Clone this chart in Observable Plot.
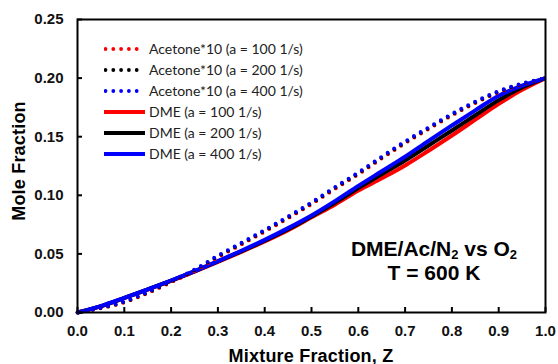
<!DOCTYPE html>
<html>
<head>
<meta charset="utf-8">
<script src="https://cdn.jsdelivr.net/npm/d3@7"></script>
<script src="https://cdn.jsdelivr.net/npm/@observablehq/plot@0.6"></script>
<style>
  html, body { margin: 0; padding: 0; background: #fff; }
  #wrap { position: relative; width: 558px; height: 364px; overflow: hidden; }
  .ov { position: absolute; font-family: "Liberation Sans", Arial, sans-serif; color: #000; white-space: nowrap; }
  .title { font-weight: bold; font-size: 18px; line-height: 18px; height: 18px; text-align: center; letter-spacing: 0.2px; }
  .ann { font-weight: bold; font-size: 21px; line-height: 21px; height: 21px; text-align: center; }
  .ann sub { font-size: 13px; vertical-align: -3px; line-height: 0; }
  .leg { position: absolute; left: 104px; height: 18px; display: flex; align-items: center;
         font-family: Lato, "Open Sans", sans-serif; font-size: 14px; color: #222; white-space: nowrap; }
  .leg svg { width: 41px; height: 18px; margin-right: 4px; flex: none; }
</style>
</head>
<body>
<div id="wrap"></div>
<script>
// ---- data ----
const Z = [0, 0.05, 0.1, 0.15, 0.2, 0.25, 0.3, 0.35, 0.4, 0.45, 0.5, 0.55, 0.6, 0.65, 0.7, 0.75, 0.8, 0.85, 0.9, 0.95, 1.0];

const dme100 = [0, 0.0053, 0.0123, 0.0196, 0.0270, 0.0348, 0.0431, 0.0517, 0.0606, 0.0702, 0.0812, 0.0920, 0.1040, 0.1145, 0.1255, 0.1380, 0.1510, 0.1645, 0.1780, 0.1900, 0.2000];
const dme200 = [0, 0.0054, 0.0124, 0.0197, 0.0272, 0.0351, 0.0435, 0.0522, 0.0612, 0.0710, 0.0820, 0.0937, 0.1062, 0.1180, 0.1297, 0.1425, 0.1553, 0.1683, 0.1812, 0.1920, 0.2000];
const dme400 = [0, 0.0055, 0.0125, 0.0198, 0.0273, 0.0353, 0.0438, 0.0527, 0.0620, 0.0720, 0.0828, 0.0950, 0.1080, 0.1205, 0.1330, 0.1465, 0.1596, 0.1725, 0.1850, 0.1935, 0.2000];

const ace100 = [0, 0.0036, 0.0086, 0.0165, 0.0258, 0.0353, 0.0471, 0.0580, 0.0690, 0.0804, 0.0924, 0.1054, 0.1179, 0.1314, 0.1444, 0.1565, 0.1681, 0.1787, 0.1879, 0.1948, 0.2000];
const ace200 = [0, 0.0038, 0.0090, 0.0170, 0.0264, 0.0360, 0.0479, 0.0588, 0.0698, 0.0812, 0.0932, 0.1062, 0.1187, 0.1322, 0.1452, 0.1572, 0.1688, 0.1793, 0.1884, 0.1951, 0.2000];
const ace400 = [0, 0.0040, 0.0094, 0.0175, 0.0270, 0.0367, 0.0486, 0.0595, 0.0705, 0.0820, 0.0940, 0.1070, 0.1195, 0.1330, 0.1460, 0.1580, 0.1695, 0.1800, 0.1890, 0.1955, 0.2000];

const xTicks = [0, 0.1, 0.2, 0.3, 0.4, 0.5, 0.6, 0.7, 0.8, 0.9, 1.0];
const yTicks = [0, 0.05, 0.10, 0.15, 0.20, 0.25];

const seriesNames = ["Acetone*10 (a = 100 1/s)", "Acetone*10 (a = 200 1/s)", "Acetone*10 (a = 400 1/s)",
                     "DME (a = 100 1/s)", "DME (a = 200 1/s)", "DME (a = 400 1/s)"];
const seriesColors = ["#ff0000", "#000000", "#0000ff", "#ff0000", "#000000", "#0000ff"];
const seriesDotted = [true, true, true, false, false, false];
const seriesValues = [ace100, ace200, ace400, dme100, dme200, dme400];

const annLines = ["DME/Ac/N<sub>2</sub> vs O<sub>2</sub>", "T = 600 K"];

const tables = seriesValues.map(vals => Z.map((z, i) => ({z, v: vals[i]})));

const W = 558, H = 364, ML = 77, MR = 13, MT = 19, MB = 52;
const TICK = 5;
const DOT = "0 7.8";
const marks = [];
// solid DME lines first, then dotted acetone on top
for (const idx of [3, 4, 5, 0, 1, 2]) {
  marks.push(Plot.line(tables[idx], {
    x: "z", y: "v", curve: "catmull-rom",
    stroke: seriesColors[idx],
    strokeWidth: seriesDotted[idx] ? 3.8 : 4,
    strokeDasharray: seriesDotted[idx] ? DOT : null,
    strokeLinecap: seriesDotted[idx] ? "round" : "butt"
  }));
}

const tickFont = {fontSize: 15, fontWeight: "bold", fontFamily: "Liberation Sans, Arial, sans-serif", fill: "#111"};

const chart = Plot.plot({
  width: W, height: H,
  marginLeft: ML, marginRight: MR, marginTop: MT, marginBottom: MB,
  style: {background: "white", overflow: "visible"},
  x: {domain: [0, 1], label: null},
  y: {domain: [0, 0.25], label: null},
  marks: [
    ...marks,
    // inward tick marks
    Plot.tickX(xTicks, {x: d => d, insetTop: (H - MT - MB) - TICK, stroke: "black", strokeWidth: 2}),
    Plot.tickY(yTicks, {y: d => d, insetRight: (W - ML - MR) - TICK, stroke: "black", strokeWidth: 2}),
    Plot.frame({stroke: "black", strokeWidth: 2}),
    // tick labels
    Plot.axisX({ticks: xTicks, tickFormat: d3.format(".1f"), tickSize: 0, tickPadding: 13, ...tickFont}),
    Plot.axisY({ticks: yTicks, tickFormat: d3.format(".2f"), tickSize: 0, tickPadding: 14, ...tickFont})
  ]
});

const wrap = document.getElementById("wrap");
wrap.appendChild(chart);

// axis titles
const xt = document.createElement("div");
xt.className = "ov title";
xt.style.left = "77px"; xt.style.width = "468px"; xt.style.top = "346.5px";
xt.textContent = "Mixture Fraction, Z";
wrap.appendChild(xt);

const yt = document.createElement("div");
yt.className = "ov title";
yt.style.left = "-81.2px"; yt.style.width = "200px"; yt.style.top = "151.8px";
yt.style.transform = "rotate(-90deg)";
yt.textContent = "Mole Fraction";
wrap.appendChild(yt);

// annotation (two lines, baselines ~255 and ~279)
const annTops = [237.5, 261.5];
annLines.forEach((html, i) => {
  const a = document.createElement("div");
  a.className = "ov ann";
  a.style.left = "334px"; a.style.width = "200px"; a.style.top = annTops[i] + "px";
  a.innerHTML = html;
  wrap.appendChild(a);
});

// legend
const rowY = [48.5, 69.5, 90.5, 111.5, 132.5, 153.5];
seriesNames.forEach((name, i) => {
  const row = document.createElement("div");
  row.className = "leg";
  row.style.top = (rowY[i] - 9) + "px";
  const ns = "http://www.w3.org/2000/svg";
  const svg = document.createElementNS(ns, "svg");
  const ln = document.createElementNS(ns, "line");
  ln.setAttribute("y1", 9); ln.setAttribute("y2", 9);
  ln.setAttribute("stroke", seriesColors[i]);
  if (seriesDotted[i]) {
    ln.setAttribute("x1", 1.5); ln.setAttribute("x2", 34);
    ln.setAttribute("stroke-width", 3.8);
    ln.setAttribute("stroke-dasharray", DOT);
    ln.setAttribute("stroke-linecap", "round");
  } else {
    ln.setAttribute("x1", 0); ln.setAttribute("x2", 41);
    ln.setAttribute("stroke-width", 4);
  }
  svg.appendChild(ln);
  row.appendChild(svg);
  const t = document.createElement("span");
  t.textContent = name;
  row.appendChild(t);
  wrap.appendChild(row);
});
</script>
</body>
</html>
